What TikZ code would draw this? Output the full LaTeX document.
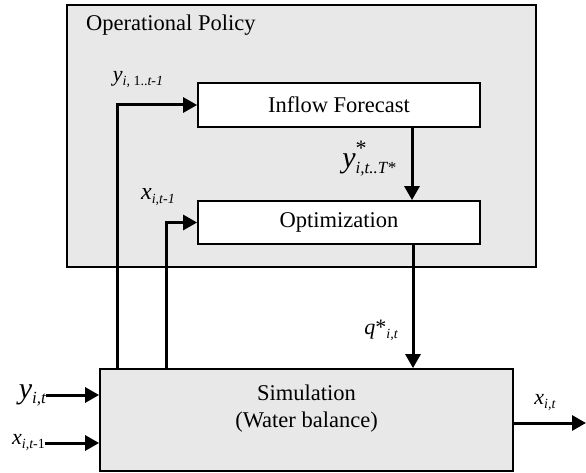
\documentclass[tikz,border=0pt]{standalone}
\usepackage{fontspec}
\setmainfont{Liberation Serif}
\usetikzlibrary{arrows.meta}
\definecolor{panel}{RGB}{232,232,232}
% symbol helpers: main italic letter and a lowered subscript
\newcommand\mainsym[2]{{\fontsize{#1}{#1}\selectfont\itshape #2}}
\newcommand\lowsub[3]{\raisebox{-#1}{\fontsize{#2}{#2}\selectfont\itshape #3}}
\begin{document}
\begin{tikzpicture}[x=1pt,y=-1pt,
  box/.style={draw=black, line width=1.8pt, inner sep=0pt,
    font=\fontsize{22.5}{27}\selectfont},
  flow/.style={line width=3pt, -{Triangle[length=14pt,width=15pt]}},
  var/.style={inner sep=0pt}]
\useasboundingbox (0,0) rectangle (586,473);

% operational policy panel
\node[box, fill=panel, minimum width=469pt, minimum height=262pt] (policy) at (301.5,136) {};
\node[anchor=west, inner sep=0pt, font=\fontsize{22.5}{27}\selectfont] (title) at (86,25) {Operational Policy};

% inner blocks
\node[box, fill=white, minimum width=282pt, minimum height=44pt] (inflow) at (339,105) {Inflow Forecast};
\node[box, fill=white, minimum width=282pt, minimum height=43pt] (opt) at (339,222.5) {Optimization};

% simulation block
\node[box, fill=panel, minimum width=413pt, minimum height=102pt] (sim) at (306.5,420) {};
\node[inner sep=0pt, align=center, font=\fontsize{22.5}{27}\selectfont] (simtext) at (306.5,409) {Simulation\\(Water balance)};

% variable labels
\node[var] (yhist) at (138,80) {\mainsym{22}{y}\lowsub{4pt}{14}{i, \upshape 1..\itshape t-1}};
\node[var] (xprev) at (158,197) {\mainsym{24}{x}\lowsub{4pt}{14}{i,t-1}};
\node[var] (yfc) at (369,159) {\mainsym{30}{y}\rlap{\raisebox{12pt}{\fontsize{22}{22}\selectfont *}}\lowsub{6pt}{17}{i,t..T*}};
\node[var] (qopt) at (381,330) {\mainsym{22}{q}{\fontsize{22}{22}\selectfont *}\lowsub{4pt}{14}{i,t}};
\node[var, anchor=east] (yin) at (46,395) {\mainsym{30}{y}\lowsub{5pt}{17}{i,t}};
\node[var, anchor=east] (xin) at (45,443) {\mainsym{22}{x}\lowsub{4pt}{14}{i,t-\upshape 1}};
\node[var] (xout) at (545,403) {\mainsym{22}{x}\lowsub{4pt}{14}{i,t}};

% connectors
\coordinate (tapy) at (117,369);
\coordinate (tapx) at (166,369);
\coordinate (out) at (586,423);
\draw[flow] (tapy) |- (inflow.west);
\draw[flow] (tapx) |- (opt.west);
\draw[flow] ([xshift=73pt]inflow.south) -- ([xshift=73pt]opt.north);
\draw[flow] ([xshift=74pt]opt.south) -- ([xshift=74pt]opt.south |- sim.north);
\draw[flow] (yin.east) -- (yin.east -| sim.west);
\draw[flow] (xin.east) -- (xin.east -| sim.west);
\draw[flow] (sim.east |- out) -- (out);
\end{tikzpicture}
\end{document}
